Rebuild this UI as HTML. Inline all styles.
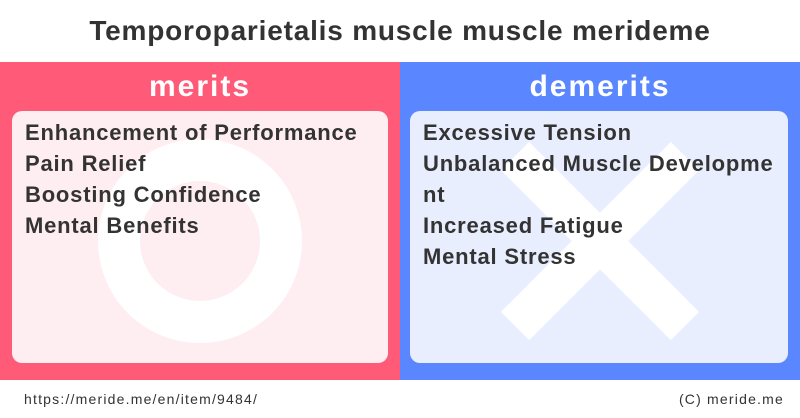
<!DOCTYPE html>
<html><head><meta charset="utf-8"><style>
*{margin:0;padding:0;box-sizing:border-box}
body{width:800px;height:418px;background:#fff;font-family:"Liberation Sans","Noto Sans CJK JP",sans-serif;position:relative;overflow:hidden;color:#333}
.title{position:absolute;top:0;left:0;width:800px;height:62px;text-align:center;line-height:62px;font-size:28px;letter-spacing:0.8px;font-weight:bold;color:#333}
.panel{position:absolute;top:62px;width:400px;height:318px}
.red{left:0;background:#ff5a78}
.blue{left:400px;background:#5a87ff}
.head{position:absolute;top:8px;width:400px;text-align:center;color:#fff;font-size:30px;letter-spacing:2px;font-weight:bold}
.box{position:absolute;top:49px;left:12px;width:376px;height:252px;border-radius:10px;overflow:hidden}
.red .box{background:#feeef1}
.blue .box{left:10px;width:378px;background:#e9eefe}
.lines{position:absolute;top:6px;left:13px;font-size:22px;letter-spacing:0.8px;font-weight:bold;line-height:31px;color:#333;white-space:nowrap}
.foot{position:absolute;top:380px;height:38px;line-height:38px;font-size:14px;letter-spacing:1.2px;color:#333}
</style></head><body>
<div class="title">Temporoparietalis muscle muscle merideme</div>
<div class="panel red"><div class="head">merits</div>
<div class="box">
<svg width="376" height="252" style="position:absolute;left:0;top:0"><circle cx="188" cy="130" r="81" fill="none" stroke="#fff" stroke-width="42"/></svg>
<div class="lines">Enhancement of Performance<br>Pain Relief<br>Boosting Confidence<br>Mental Benefits</div></div></div>
<div class="panel blue"><div class="head">demerits</div>
<div class="box">
<svg width="378" height="252" style="position:absolute;left:0;top:0"><path d="M105 45 L275 215 M275 45 L105 215" stroke="#fff" stroke-width="40"/></svg>
<div class="lines">Excessive Tension<br>Unbalanced Muscle Developme<br>nt<br>Increased Fatigue<br>Mental Stress</div></div></div>
<div class="foot" style="left:24px">https://meride.me/en/item/9484/</div>
<div class="foot" style="right:16px">(C) meride.me</div>
</body></html>
